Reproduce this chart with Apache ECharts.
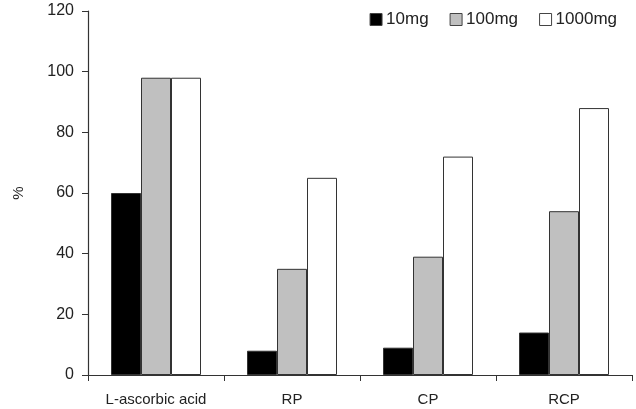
<!DOCTYPE html>
<html>
<head>
<meta charset="utf-8">
<script src="https://cdn.jsdelivr.net/npm/echarts@6/dist/echarts.min.js"></script>
<style>
  html, body { margin: 0; padding: 0; background: #fff; }
  #main { width: 636px; height: 409px; }
</style>
</head>
<body>
<div id="main"></div>
<script>
// 数据
const categories = ["L-ascorbic acid", "RP", "CP", "RCP"];
const seriesNames = ["10mg", "100mg", "1000mg"];
const values10 = [60, 8, 9, 14];
const values100 = [98, 35, 39, 54];
const values1000 = [98, 65, 72, 88];
const yTicks = [0, 20, 40, 60, 80, 100, 120];

const fills = ["#000000", "#c0c0c0", "#ffffff"];
const allValues = [values10, values100, values1000];

const chartDom = document.getElementById("main");
const myChart = echarts.init(chartDom);

const option = {
  animation: false,
  textStyle: { fontFamily: "Liberation Sans, Arial, sans-serif" },
  legend: {
    top: 6,
    right: 14,
    icon: "rect",
    itemWidth: 12,
    itemHeight: 12,
    itemGap: 21,
    textStyle: { fontSize: 17, color: "#222", padding: [0, 0, 0, -1] },
    data: seriesNames.map((n, i) => ({
      name: n,
      itemStyle: { color: fills[i], borderColor: "#444", borderWidth: 1 },
    })),
  },
  grid: { left: 88, right: 4, top: 11, bottom: 34 },
  xAxis: {
    type: "category",
    data: categories,
    axisLine: { lineStyle: { color: "#333", width: 1.2 } },
    axisTick: { show: true, interval: 0, length: 6, inside: false, lineStyle: { color: "#333" } },
    axisLabel: { interval: 0, fontSize: 15, color: "#222", margin: 17 },
  },
  yAxis: {
    type: "value",
    min: yTicks[0],
    max: yTicks[yTicks.length - 1],
    interval: 20,
    name: "%",
    nameLocation: "middle",
    nameGap: 62,
    nameRotate: 90,
    nameTextStyle: { fontSize: 15, color: "#222" },
    splitLine: { show: false },
    axisLine: { show: true, lineStyle: { color: "#333", width: 1.2 } },
    axisTick: { show: true, length: 6, lineStyle: { color: "#333" } },
    axisLabel: { fontSize: 16, color: "#222", margin: 14 },
  },
  series: seriesNames.map((n, i) => ({
    name: n,
    type: "bar",
    data: allValues[i],
    barWidth: 30,
    barGap: "0%",
    itemStyle: {
      color: fills[i],
      borderColor: "#333",
      borderWidth: 1,
    },
  })),
};

option && myChart.setOption(option);
</script>
</body>
</html>
